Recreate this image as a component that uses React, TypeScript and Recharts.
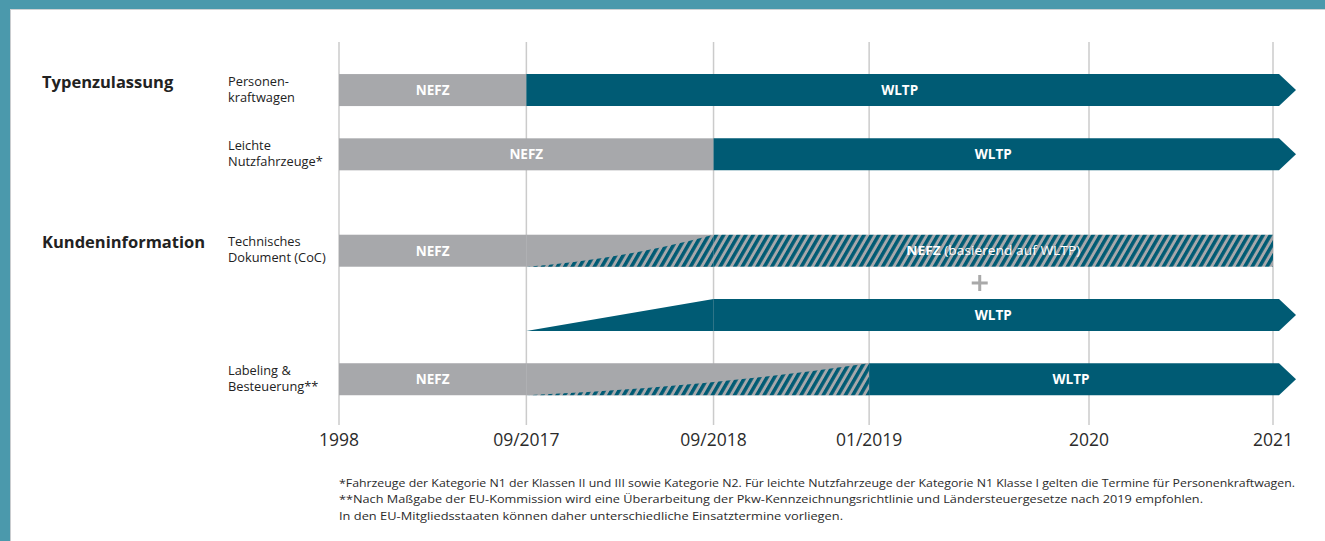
import React from 'react';
import { ComposedChart, Bar, XAxis, YAxis, CartesianGrid, ReferenceDot } from 'recharts';

// ---- axis / categories ----
const dateLabels = ['1998', '09/2017', '09/2018', '01/2019', '2020', '2021'];
const datePos = [0, 1.003, 2.005, 2.838, 4.015, 5];

const rowNames = [
  'Personenkraftwagen',
  'Leichte Nutzfahrzeuge',
  'Technisches Dokument (CoC) – NEFZ',
  'Technisches Dokument (CoC) – WLTP',
  'Labeling & Besteuerung',
];
const rowLabelLines = [
  ['Personen-', 'kraftwagen'],
  ['Leichte', 'Nutzfahrzeuge*'],
  ['Technisches', 'Dokument (CoC)'],
  [],
  ['Labeling &', 'Besteuerung**'],
];
const sectionTitles = ['Typenzulassung', '', 'Kundeninformation', '', ''];
const rowSlot = [0, 1, 2.5, 3.5, 4.5];

// ---- periods per row ([from, to] dates) ----
const nefzPeriod = [['1998', '09/2017'], ['1998', '09/2018'], ['1998', '09/2017'], null, ['1998', '09/2017']];
const mixedRampPeriod = [null, null, ['09/2017', '09/2018'], null, ['09/2017', '01/2019']];
const nefzOnWltpPeriod = [null, null, ['09/2018', '2021'], null, null];
const wltpRampPeriod = [null, null, null, ['09/2017', '09/2018'], null];
const wltpPeriod = [['09/2017', '2021'], ['09/2018', '2021'], null, ['09/2018', '2021'], ['01/2019', '2021']];

const plusMarkX = 3.43;
const plusMarkSlot = 3;

const footnotes = [
  '*Fahrzeuge der Kategorie N1 der Klassen II und III sowie Kategorie N2. Für leichte Nutzfahrzeuge der Kategorie N1 Klasse I gelten die Termine für Personenkraftwagen.',
  '**Nach Maßgabe der EU-Kommission wird eine Überarbeitung der Pkw-Kennzeichnungsrichtlinie und Ländersteuergesetze nach 2019 empfohlen.',
  'In den EU-Mitgliedsstaaten können daher unterschiedliche Einsatztermine vorliegen.',
];
const footnoteWidths = [956, 864, 504];

// ---- build table ----
const toPos = (d: string) => datePos[dateLabels.indexOf(d)];
const span = (p: any) => (p ? [toPos(p[0]), toPos(p[1])] : null);
const data = rowNames.map((name, i) => ({
  name,
  slot: rowSlot[i],
  nefz: span(nefzPeriod[i]),
  mixedRamp: span(mixedRampPeriod[i]),
  nefzOnWltp: span(nefzOnWltpPeriod[i]),
  wltpRamp: span(wltpRampPeriod[i]),
  wltp: span(wltpPeriod[i]),
}));

const TEAL = '#005b74';
const GRAY = '#a7a8ab';
const FONT = '"Open Sans", "Noto Sans", sans-serif';

const ok = (p: any, key: string) => p && p.payload && p.payload[key] && isFinite(p.x) && p.width > 0;

const BarLabel = ({ x, y, children }: any) => (
  <text x={x} y={y} dy="0.36em" textAnchor="middle" fill="#fff" fontFamily={FONT} fontSize={13.5} fontWeight={700}>
    {children}
  </text>
);

const NefzShape = (p: any) => {
  if (!ok(p, 'nefz')) return <g />;
  const { x, y, width, height } = p;
  return (
    <g>
      <rect x={x} y={y} width={width} height={height} fill={GRAY} />
      <BarLabel x={x + width / 2} y={y + height / 2}>NEFZ</BarLabel>
    </g>
  );
};

const MixedRampShape = (p: any) => {
  if (!ok(p, 'mixedRamp')) return <g />;
  const { x, y, width: w, height: h } = p;
  return (
    <g>
      <rect x={x} y={y} width={w} height={h} fill={GRAY} />
      <path d={`M${x},${y + h} Q${x + w * 0.5},${y + h * 0.78} ${x + w},${y} L${x + w},${y + h} Z`} fill="url(#hatchStripes)" />
    </g>
  );
};

const NefzOnWltpShape = (p: any) => {
  if (!ok(p, 'nefzOnWltp')) return <g />;
  const { x, y, width: w, height: h } = p;
  return (
    <g>
      <rect x={x} y={y} width={w} height={h} fill="url(#hatchStripes)" />
      <text x={x + w / 2} y={y + h / 2} dy="0.36em" textAnchor="middle" fill="#fff" fontFamily={FONT} fontSize={13} textLength={174} lengthAdjust="spacingAndGlyphs">
        <tspan fontWeight={700}>NEFZ</tspan>
        <tspan fontWeight={400}> (basierend auf WLTP)</tspan>
      </text>
    </g>
  );
};

const WltpRampShape = (p: any) => {
  if (!ok(p, 'wltpRamp')) return <g />;
  const { x, y, width: w, height: h } = p;
  return <path d={`M${x},${y + h} L${x + w},${y} L${x + w},${y + h} Z`} fill={TEAL} />;
};

const WltpShape = (p: any) => {
  if (!ok(p, 'wltp')) return <g />;
  const { x, y, width: w, height: h } = p;
  const e = x + w;
  const pts = `${x},${y} ${e + 6},${y} ${e + 23},${y + h / 2} ${e + 6},${y + h} ${x},${y + h}`;
  return (
    <g>
      <polygon points={pts} fill={TEAL} />
      <BarLabel x={x + w / 2} y={y + h / 2}>WLTP</BarLabel>
    </g>
  );
};

const DateTick = (p: any) => {
  const i = datePos.indexOf(p.payload.value);
  return (
    <text x={p.x} y={p.y + 21} textAnchor="middle" fill="#2b2b2b" fontFamily={FONT} fontSize={17.5}>
      {dateLabels[i]}
    </text>
  );
};

const RowTick = (p: any) => {
  const i = rowSlot.indexOf(p.payload.value);
  if (i < 0) return <g />;
  const cy = p.y;
  const lines = rowLabelLines[i];
  return (
    <g>
      {sectionTitles[i] ? (
        <text x={42} y={cy - 2.5} fill="#222" fontFamily={FONT} fontSize={16.5} fontWeight={700}>
          {sectionTitles[i]}
        </text>
      ) : null}
      {lines.map((t, k) => (
        <text key={k} x={228} y={cy - 4.5 + k * 16} fill="#222" fontFamily={FONT} fontSize={12.8}>
          {t}
        </text>
      ))}
    </g>
  );
};

const PlusShape = (p: any) => {
  const { cx, cy } = p;
  return (
    <g fill="#a9a9a9">
      <rect x={cx - 8} y={cy - 1.5} width={16} height={3} />
      <rect x={cx - 1.5} y={cy - 8} width={3} height={16} />
    </g>
  );
};

export default function App() {
  return (
    <div style={{ position: 'absolute', left: 0, top: 0, width: 1325, height: 541, background: '#fff', overflow: 'hidden' }}>
      <div style={{ position: 'absolute', left: 0, top: 0, width: 1325, height: 9, background: '#4b99ac' }} />
      <div style={{ position: 'absolute', left: 10, top: 9, width: 1315, height: 1, background: '#cfd2d4' }} />
      <div style={{ position: 'absolute', left: 0, top: 0, width: 10, height: 541, background: '#4b99ac' }} />
      <div style={{ position: 'absolute', left: 10, top: 10, width: 1, height: 531, background: '#c9cccf' }} />
      <div style={{ position: 'absolute', left: 0, top: 0 }}>
        <ComposedChart
          width={1325}
          height={541}
          data={data}
          layout="vertical"
          margin={{ top: 42, right: 52, left: 224, bottom: 86 }}
          barSize={32}
          barGap={-32}
        >
          <defs>
            <pattern id="hatchStripes" patternUnits="userSpaceOnUse" width={6.4} height={12} patternTransform="rotate(30)">
              <rect x={0} y={0} width={6.4} height={12} fill={GRAY} />
              <rect x={0} y={0} width={3.5} height={12} fill={TEAL} />
            </pattern>
          </defs>
          <CartesianGrid horizontal={false} vertical stroke="#cbcbcb" strokeWidth={1.5} />
          <XAxis
            type="number"
            domain={[0, 5]}
            ticks={datePos}
            interval={0}
            axisLine={false}
            tickLine={false}
            tickSize={0}
            tickMargin={0}
            height={30}
            tick={<DateTick />}
          />
          <YAxis
            type="number"
            dataKey="slot"
            domain={[-0.75, 5.21]}
            ticks={rowSlot}
            interval={0}
            width={115}
            axisLine={false}
            tickLine={false}
            tickSize={0}
            tickMargin={0}
            tick={<RowTick />}
          />
          <Bar dataKey="nefz" isAnimationActive={false} shape={<NefzShape />} />
          <Bar dataKey="mixedRamp" isAnimationActive={false} shape={<MixedRampShape />} />
          <Bar dataKey="nefzOnWltp" isAnimationActive={false} shape={<NefzOnWltpShape />} />
          <Bar dataKey="wltpRamp" isAnimationActive={false} shape={<WltpRampShape />} />
          <Bar dataKey="wltp" isAnimationActive={false} shape={<WltpShape />} />
          <ReferenceDot x={plusMarkX} y={plusMarkSlot} r={8} shape={<PlusShape />} />
        </ComposedChart>
      </div>
      <svg width={1325} height={541} style={{ position: 'absolute', left: 0, top: 0, pointerEvents: 'none' }}>
        {footnotes.map((t, i) => (
          <text
            key={i}
            x={339}
            y={487 + i * 16.3}
            fill="#2b2b2b"
            fontFamily={FONT}
            fontSize={11.5}
            textLength={footnoteWidths[i]}
            lengthAdjust="spacingAndGlyphs"
          >
            {t}
          </text>
        ))}
      </svg>
    </div>
  );
}
